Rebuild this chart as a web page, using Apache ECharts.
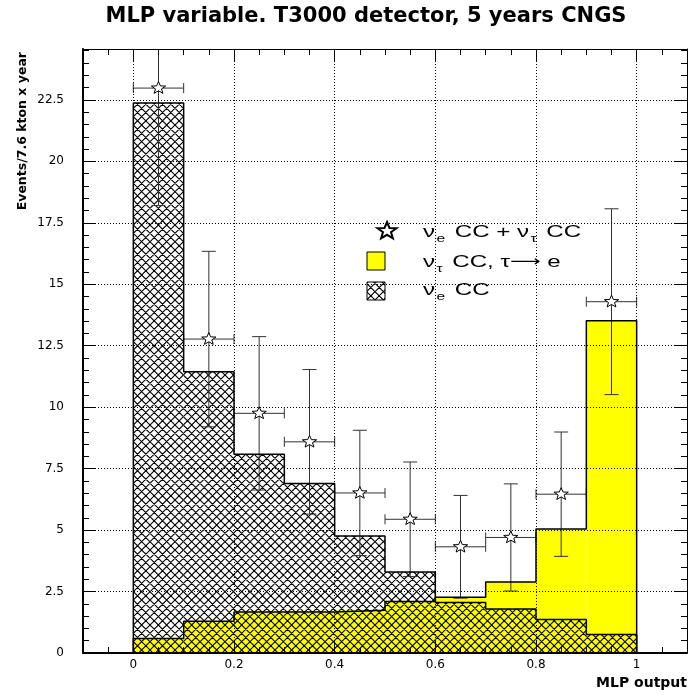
<!DOCTYPE html>
<html><head><meta charset="utf-8">
<script src="https://cdn.jsdelivr.net/npm/echarts@6/dist/echarts.min.js"></script>
<style>html,body{margin:0;padding:0;background:#fff}#c{width:688px;height:699px}</style>
</head><body><div id="c"></div>
<script>
// ---- data ----
const binEdges = [0, 0.1, 0.2, 0.3, 0.4, 0.5, 0.6, 0.7, 0.8, 0.9, 1.0];
const nuTauCounts = [0.59, 1.29, 1.67, 1.67, 1.74, 2.09, 2.27, 2.89, 5.04, 13.52]; // yellow, nu_tau CC tau->e
const nuECounts = [22.37, 11.44, 8.08, 6.90, 4.76, 3.30, 2.05, 1.79, 1.36, 0.75];   // hatched, nu_e CC
const totalCounts = [22.98, 12.77, 9.75, 8.59, 6.51, 5.44, 4.32, 4.70, 6.46, 14.29]; // stars
const totalErrors = [4.78, 3.57, 3.12, 2.94, 2.55, 2.33, 2.09, 2.18, 2.53, 3.78];
const xMin = -0.1, xMax = 1.1, yMin = 0, yMax = 24.57;
const yLabelStep = 2.5;
const titleText = 'MLP variable. T3000 detector, 5 years CNGS';
const xTitle = 'MLP output';
const yTitle = 'Events/7.6 kton x year';

// ---- helpers ----
function makeHatch() {
  const s = 25, n = 3, p = s / n;
  const c = document.createElement('canvas'); c.width = s; c.height = s;
  const g = c.getContext('2d');
  g.strokeStyle = '#000'; g.lineWidth = 1.1;
  g.beginPath();
  for (let k = -n; k <= 2 * n; k++) {
    g.moveTo(k * p, 0); g.lineTo(k * p + s, s);
    g.moveTo(k * p, 0); g.lineTo(k * p - s, s);
  }
  g.stroke();
  return c;
}
const hatch = { image: makeHatch(), repeat: 'repeat' };

function starPoints(cx, cy, rx, ry) {
  const pts = [];
  for (let k = 0; k < 10; k++) {
    const a = -Math.PI / 2 + k * Math.PI / 5;
    const f = (k % 2) ? 0.42 : 1;
    pts.push([cx + rx * f * Math.cos(a), cy + ry * f * Math.sin(a)]);
  }
  return pts;
}
function binData(vals) { return vals.map((v, i) => [binEdges[i], binEdges[i + 1], v]); }
function stepOutline(vals) {
  const pts = [[binEdges[0], 0]];
  vals.forEach((v, i) => { pts.push([binEdges[i], v]); pts.push([binEdges[i + 1], v]); });
  pts.push([binEdges[binEdges.length - 1], 0]);
  return pts;
}
function barRender(fill) {
  return function (params, api) {
    const p0 = api.coord([api.value(0), api.value(2)]);
    const p1 = api.coord([api.value(1), 0]);
    return { type: 'rect', shape: { x: p0[0], y: p0[1], width: p1[0] - p0[0], height: p1[1] - p0[1] },
      style: { fill: fill, stroke: null } };
  };
}
function errRender(params, api) {
  const xc = api.value(0), y = api.value(1), e = api.value(2), xl = api.value(3), xh = api.value(4);
  const c = api.coord([xc, y]);
  const t = api.coord([xc, y + e]);
  const b = api.coord([xc, y - e]);
  const l = api.coord([xl, y]);
  const r = api.coord([xh, y]);
  const ls = { stroke: '#333', lineWidth: 1 };
  return { type: 'group', children: [
    { type: 'line', shape: { x1: c[0], y1: t[1], x2: c[0], y2: b[1] }, style: ls },
    { type: 'line', shape: { x1: c[0] - 7, y1: t[1], x2: c[0] + 7, y2: t[1] }, style: ls },
    { type: 'line', shape: { x1: c[0] - 7, y1: b[1], x2: c[0] + 7, y2: b[1] }, style: ls },
    { type: 'line', shape: { x1: l[0], y1: c[1], x2: r[0], y2: c[1] }, style: ls },
    { type: 'line', shape: { x1: l[0], y1: c[1] - 5, x2: l[0], y2: c[1] + 5 }, style: ls },
    { type: 'line', shape: { x1: r[0], y1: c[1] - 5, x2: r[0], y2: c[1] + 5 }, style: ls },
    { type: 'polygon', shape: { points: starPoints(c[0], c[1], 7.5, 6.5) }, style: { fill: '#fff', stroke: '#000', lineWidth: 1 } }
  ] };
}
function fmtX(v) {
  const q = v / 0.2;
  if (Math.abs(q - Math.round(q)) > 1e-6) return '';
  return String(Math.round(v * 10) / 10);
}
function fmtY(v) {
  const q = v / yLabelStep;
  if (Math.abs(q - Math.round(q)) > 1e-6) return '';
  return String(v);
}

const labelFont = { fontFamily: 'DejaVu Sans', fontSize: 12, color: '#000' };
const dotted = { color: '#000', width: 1, type: [1, 2] };
function xAxisCfg(pos, lw, labels) {
  return { type: 'value', position: pos, min: xMin, max: xMax, splitNumber: 6, z: 5,
    axisLine: { show: true, onZero: false, lineStyle: { color: '#000', width: lw } },
    axisTick: { show: true, inside: true, length: 12, lineStyle: { color: '#000', width: 1 } },
    minorTick: { show: true, splitNumber: 4, length: 6, lineStyle: { color: '#000', width: 1 } },
    axisLabel: labels ? Object.assign({ show: true, margin: 6, formatter: fmtX, showMinLabel: true, showMaxLabel: true }, labelFont) : { show: false },
    splitLine: { show: labels, lineStyle: dotted }
  };
}
function yAxisCfg(pos, lw, labels) {
  return { type: 'value', position: pos, min: yMin, max: yMax, interval: yLabelStep, z: 5,
    axisLine: { show: true, onZero: false, lineStyle: { color: '#000', width: lw } },
    axisTick: { show: true, inside: true, length: 12, lineStyle: { color: '#000', width: 1 } },
    minorTick: { show: true, splitNumber: 5, length: 6, lineStyle: { color: '#000', width: 1 } },
    axisLabel: labels ? Object.assign({ show: true, margin: 19, formatter: fmtY, showMaxLabel: false }, labelFont) : { show: false },
    splitLine: { show: labels, lineStyle: dotted }
  };
}

const xa0 = xAxisCfg('bottom', 2, true);
xa0.name = xTitle; xa0.nameLocation = 'end'; xa0.nameGap = 0;
xa0.nameTextStyle = { fontFamily: 'DejaVu Sans', fontWeight: 'bold', fontSize: 14, color: '#000', align: 'right', verticalAlign: 'top', padding: [23, 0, 0, 0] };
const ya0 = yAxisCfg('left', 2, true);
ya0.name = yTitle; ya0.nameLocation = 'end'; ya0.nameGap = -3; ya0.nameRotate = 90;
ya0.nameTextStyle = { fontFamily: 'DejaVu Sans', fontWeight: 'bold', fontSize: 12.5, color: '#000', align: 'right', verticalAlign: 'bottom', padding: [0, 0, 54, 0] };

const legendRich = {
  n: { fontFamily: 'Liberation Sans', fontSize: 17, color: '#000', lineHeight: 24 },
  a: { fontFamily: 'DejaVu Sans', fontSize: 15, color: '#000', lineHeight: 24 },
  s: { fontFamily: 'Liberation Sans', fontSize: 11, color: '#000', lineHeight: 11, verticalAlign: 'bottom', padding: [0, 2, 0, 1] }
};
function legendText(x, y, txt) {
  return { type: 'text', x: x, y: y, scaleX: 1.42, z: 20,
    style: { text: txt, rich: legendRich, verticalAlign: 'middle', align: 'left' } };
}

const option = {
  animation: false,
  backgroundColor: '#fff',
  title: { text: titleText, left: 366, top: 6, textAlign: 'center', padding: 0,
    textStyle: { fontFamily: 'DejaVu Sans', fontWeight: 'bold', fontSize: 21, color: '#000' } },
  grid: { left: 83, right: 1, top: 49, bottom: 46, containLabel: false, outerBoundsMode: 'none' },
  xAxis: [xa0, xAxisCfg('top', 1, false)],
  yAxis: [ya0, yAxisCfg('right', 1, false)],
  series: [
    { type: 'custom', name: 'nu_tau fill', data: binData(nuTauCounts), encode: { x: [0, 1], y: 2 },
      renderItem: barRender('#ffff00'), clip: true, silent: true },
    { type: 'line', name: 'nu_tau outline', data: stepOutline(nuTauCounts), showSymbol: false, symbol: 'none',
      lineStyle: { color: '#000', width: 1.5 }, silent: true },
    { type: 'custom', name: 'nu_e hatch', data: binData(nuECounts), encode: { x: [0, 1], y: 2 },
      renderItem: barRender(hatch), clip: true, silent: true },
    { type: 'line', name: 'nu_e outline', data: stepOutline(nuECounts), showSymbol: false, symbol: 'none',
      lineStyle: { color: '#000', width: 1.5 }, silent: true },
    { type: 'custom', name: 'total', clip: true, silent: true,
      data: totalCounts.map((v, i) => [(binEdges[i] + binEdges[i + 1]) / 2, v, totalErrors[i], binEdges[i], binEdges[i + 1]]),
      encode: { x: 0, y: 1 }, renderItem: errRender }
  ],
  graphic: [
    { type: 'polygon', z: 20, shape: { points: starPoints(387, 231, 10, 9) }, style: { fill: '#fff', stroke: '#000', lineWidth: 2 } },
    { type: 'rect', z: 20, shape: { x: 367, y: 252, width: 18, height: 18 }, style: { fill: '#ffff00', stroke: '#000', lineWidth: 1 } },
    { type: 'rect', z: 20, shape: { x: 367, y: 282, width: 18, height: 18 }, style: { fill: hatch, stroke: '#000', lineWidth: 1 } },
    legendText(423, 232, '{n|ν}{s|e}{n| CC + ν}{s|τ}{n| CC}'),
    legendText(423, 262, '{n|ν}{s|τ}{n| CC, τ}{a|⟶}{n| e}'),
    legendText(423, 290, '{n|ν}{s|e}{n| CC}')
  ]
};
const chart = echarts.init(document.getElementById('c'), null, { renderer: 'canvas' });
chart.setOption(option);
</script>
</body></html>
